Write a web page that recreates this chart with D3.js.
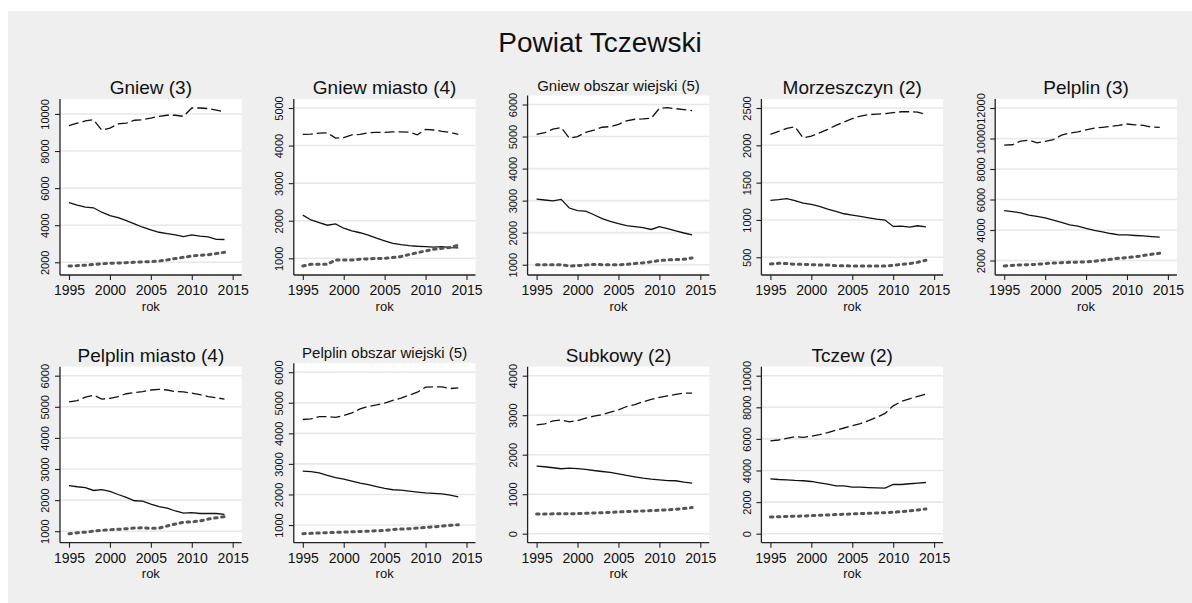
<!DOCTYPE html>
<html><head><meta charset="utf-8">
<script src="https://cdn.jsdelivr.net/npm/d3@7/dist/d3.min.js"></script>
<style>body{margin:0;background:#fff}svg{display:block}text{font-family:"Liberation Sans",Arial,Helvetica,sans-serif}</style>
</head><body>
<script>
const mainTitle = "Powiat Tczewski";
const years = [1995,1996,1997,1998,1999,2000,2001,2002,2003,2004,2005,2006,2007,2008,2009,2010,2011,2012,2013,2014];
const xTicks = [1995,2000,2005,2010,2015];
const xLabel = "rok";
const titles = ["Gniew (3)","Gniew miasto (4)","Gniew obszar wiejski (5)","Morzeszczyn (2)","Pelplin (3)",
  "Pelplin miasto (4)","Pelplin obszar wiejski (5)","Subkowy (2)","Tczew (2)"];
const yTicks = [
  [2000,4000,6000,8000,10000],
  [1000,2000,3000,4000,5000],
  [1000,2000,3000,4000,5000,6000],
  [500,1000,1500,2000,2500],
  [2000,4000,6000,8000,10000,12000],
  [1000,2000,3000,4000,5000,6000],
  [1000,2000,3000,4000,5000,6000],
  [0,1000,2000,3000,4000],
  [0,2000,4000,6000,8000,10000]
];
// working age (dashed)
const produkcyjny = [
  [9370,9500,9620,9690,9120,9240,9460,9510,9660,9690,9780,9870,9930,9930,9870,10320,10320,10290,10200,10110],
  [4296,4305,4330,4340,4200,4215,4285,4296,4340,4350,4350,4367,4367,4360,4285,4430,4415,4380,4350,4296],
  [5070,5120,5230,5280,4950,5000,5130,5200,5290,5310,5380,5490,5540,5550,5570,5880,5900,5870,5840,5810],
  [2146,2186,2226,2249,2100,2123,2168,2213,2267,2312,2357,2392,2410,2419,2424,2437,2450,2450,2446,2410],
  [9566,9590,9830,9890,9720,9810,9920,10220,10360,10440,10570,10680,10730,10790,10860,10950,10900,10860,10750,10730],
  [5160,5200,5310,5375,5250,5270,5330,5420,5460,5490,5540,5560,5540,5490,5480,5440,5390,5330,5290,5250],
  [4453,4475,4550,4550,4520,4585,4670,4800,4880,4930,4990,5075,5150,5250,5345,5510,5520,5520,5465,5490],
  [2754,2780,2855,2880,2830,2865,2925,2975,3015,3075,3135,3220,3270,3340,3400,3450,3490,3525,3560,3560],
  [5870,5930,6040,6140,6100,6165,6270,6400,6550,6690,6840,6970,7160,7370,7610,8090,8370,8540,8690,8840]
];
// pre-working age (solid)
const przedprodukcyjny = [
  [5220,5080,4970,4940,4700,4520,4410,4250,4070,3890,3750,3620,3550,3480,3390,3480,3410,3370,3240,3230],
  [2148,2020,1950,1880,1915,1800,1730,1680,1615,1535,1465,1400,1365,1335,1320,1310,1300,1310,1285,1275],
  [3050,3020,2990,3040,2770,2690,2670,2560,2440,2350,2280,2220,2190,2160,2100,2190,2130,2060,1990,1930],
  [1262,1271,1285,1258,1226,1208,1181,1146,1114,1083,1065,1047,1029,1011,998,913,917,904,922,908],
  [5268,5200,5130,4980,4890,4800,4650,4500,4340,4250,4100,3970,3880,3770,3680,3680,3640,3610,3570,3530],
  [2466,2430,2400,2310,2340,2280,2180,2090,1980,1970,1870,1790,1740,1650,1580,1600,1570,1570,1570,1540],
  [2765,2745,2710,2625,2550,2505,2440,2375,2320,2255,2200,2155,2145,2110,2080,2050,2035,2020,1980,1925],
  [1712,1695,1670,1645,1660,1645,1630,1600,1575,1550,1515,1475,1440,1405,1380,1365,1345,1340,1305,1280],
  [3475,3430,3410,3370,3350,3305,3220,3140,3030,3030,2945,2945,2920,2900,2880,3115,3115,3160,3200,3240]
];
// post-working age (thick dotted)
const poprodukcyjny = [
  [1800,1820,1840,1880,1920,1950,1960,1980,2000,2020,2040,2070,2130,2200,2270,2340,2380,2410,2470,2540],
  [795,840,840,840,955,955,955,975,985,995,1000,1020,1050,1100,1150,1195,1240,1265,1290,1350],
  [1000,1000,1000,1000,960,970,990,1010,1000,1000,1000,1010,1040,1060,1090,1130,1150,1160,1170,1210],
  [410,419,415,406,406,401,397,397,388,388,383,383,383,383,383,392,406,415,433,460],
  [1640,1680,1710,1730,1750,1800,1830,1860,1880,1890,1910,1950,2020,2080,2150,2190,2240,2330,2410,2480],
  [920,950,970,1000,1030,1050,1060,1080,1100,1110,1090,1100,1170,1230,1290,1300,1330,1390,1430,1470],
  [717,728,740,750,760,770,780,790,800,812,825,855,868,880,900,920,942,965,990,1010],
  [500,500,502,504,506,508,515,525,532,540,550,560,568,576,585,593,606,619,636,661],
  [1060,1075,1090,1105,1120,1145,1165,1185,1210,1230,1250,1270,1290,1310,1330,1355,1395,1440,1505,1570]
];

const W = 1192, H = 603;
const svg = d3.select("body").append("svg").attr("width", W).attr("height", H);
svg.append("rect").attr("x", 8).attr("y", 11).attr("width", W - 8).attr("height", H - 11).attr("fill", "#efefef");
svg.append("text").attr("x", 600).attr("y", 52).attr("text-anchor", "middle")
  .attr("font-size", 28).attr("fill", "#111").text(mainTitle);

const panelW = 181.7, colStep = 233.8, colStart = 60;
const rowBottom = [275, 542.7];
const rowTop = [99, 366.7];
const pad = 9;
const fmt = d3.format("d");

titles.forEach((t, i) => {
  const c = i % 5, r = Math.floor(i / 5);
  const long = t.length > 20;
  const L = colStart + c * colStep, R = L + panelW;
  const top = rowTop[r] - (long ? 3.5 : 0), bot = rowBottom[r];
  const g = svg.append("g");
  g.append("rect").attr("x", L).attr("y", top).attr("width", panelW).attr("height", bot - top).attr("fill", "#fff");
  const x = d3.scaleLinear().domain([1995, 2015]).range([L + pad, R - pad]);
  const all = produkcyjny[i].concat(przedprodukcyjny[i], poprodukcyjny[i], yTicks[i]);
  const y = d3.scaleLinear().domain(d3.extent(all)).range([bot - pad, top + pad]);
  g.selectAll(".grid").data(yTicks[i]).enter().append("line")
    .attr("x1", L).attr("x2", R).attr("y1", d => y(d)).attr("y2", d => y(d))
    .attr("stroke", "#e8e8e8").attr("stroke-width", 1.6);
  const ya = g.append("g").attr("transform", `translate(${L},0)`)
    .call(d3.axisLeft(y).tickValues(yTicks[i]).tickFormat(fmt).tickSize(5).tickSizeOuter(0));
  ya.select(".domain").remove();
  ya.selectAll("line").attr("stroke", "#222").attr("stroke-width", 1.1);
  ya.selectAll("text").attr("transform", "rotate(-90)").attr("x", 0).attr("y", -10.7).attr("dy", 0)
    .attr("text-anchor", "middle").attr("font-size", 11).attr("fill", "#111")
    .style("font-family", '"Liberation Sans",Arial,sans-serif');
  const xa = g.append("g").attr("transform", `translate(0,${bot})`)
    .call(d3.axisBottom(x).tickValues(xTicks).tickFormat(fmt).tickSize(5).tickPadding(5).tickSizeOuter(0));
  xa.select(".domain").remove();
  xa.selectAll("line").attr("stroke", "#222").attr("stroke-width", 1.1);
  xa.selectAll("text").attr("font-size", 14).attr("fill", "#111")
    .style("font-family", '"Liberation Sans",Arial,sans-serif');
  g.append("line").attr("x1", L).attr("x2", L).attr("y1", top).attr("y2", bot).attr("stroke", "#222").attr("stroke-width", 1.3);
  g.append("line").attr("x1", L).attr("x2", R).attr("y1", bot).attr("y2", bot).attr("stroke", "#222").attr("stroke-width", 1.3);
  g.append("text").attr("x", (L + R) / 2).attr("y", bot + 35.5).attr("text-anchor", "middle")
    .attr("font-size", 13).attr("fill", "#111").text(xLabel);
  g.append("text").attr("x", (L + R) / 2).attr("y", top - 5).attr("text-anchor", "middle")
    .attr("font-size", long ? 15 : 19).attr("fill", "#111").text(t);
  const line = d3.line().x((d, k) => x(years[k])).y(d => y(d));
  g.append("path").attr("d", line(produkcyjny[i])).attr("fill", "none")
    .attr("stroke", "#111").attr("stroke-width", 1.3).attr("stroke-dasharray", "10,4");
  g.append("path").attr("d", line(przedprodukcyjny[i])).attr("fill", "none")
    .attr("stroke", "#111").attr("stroke-width", 1.3);
  g.append("path").attr("d", line(poprodukcyjny[i])).attr("fill", "none")
    .attr("stroke", "#555").attr("stroke-width", 3).attr("stroke-linecap", "round").attr("stroke-dasharray", "2.5,4.5");
});
</script>
</body></html>
